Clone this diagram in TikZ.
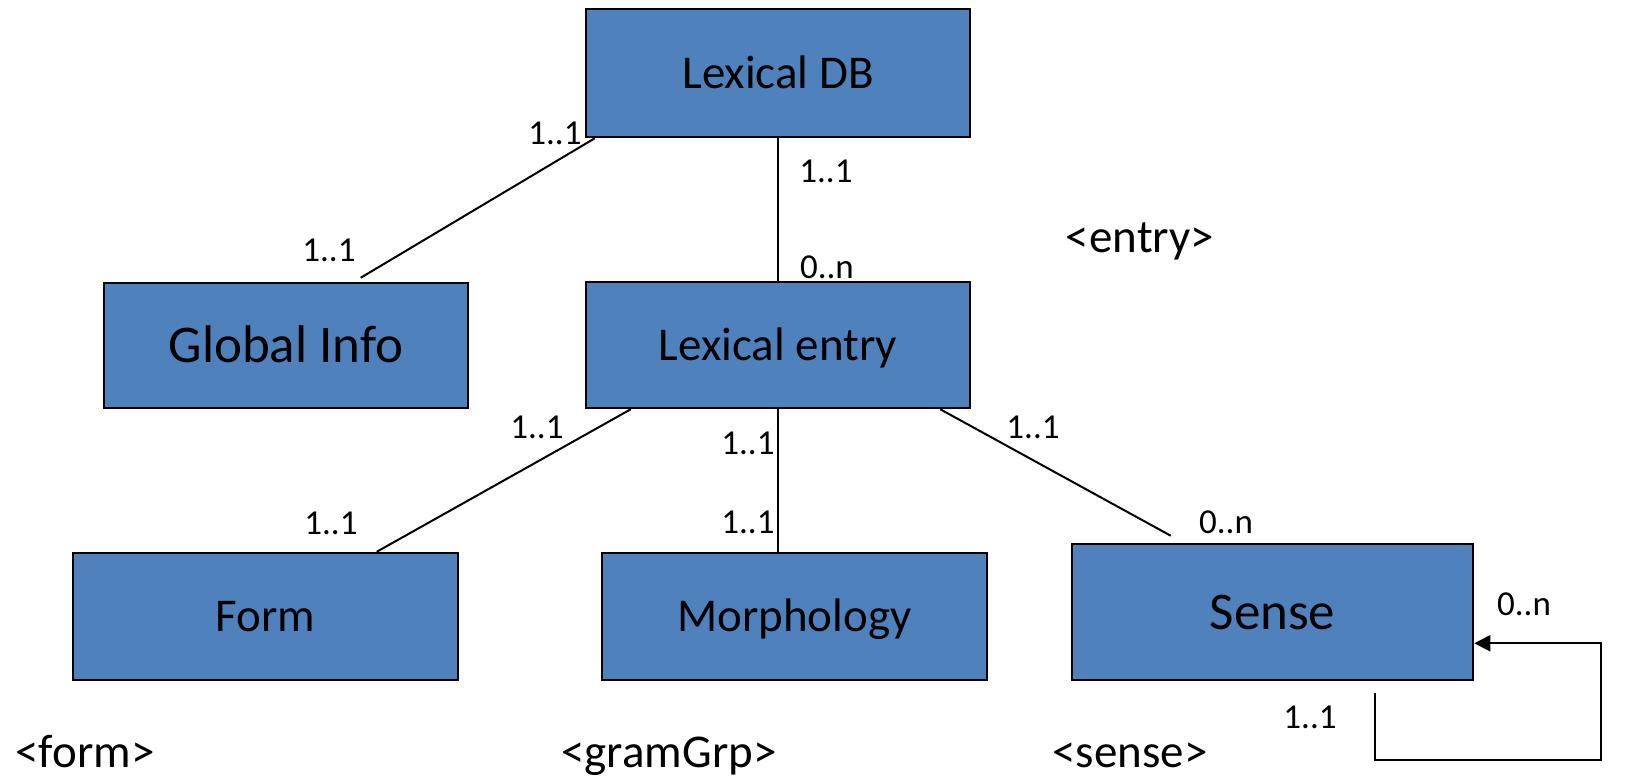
\documentclass[tikz,border=0pt]{standalone}
\usepackage{fontspec}
\setmainfont{Carlito}
\usetikzlibrary{calc,arrows.meta}
\definecolor{boxblue}{HTML}{4F81BD}
\begin{document}
\begin{tikzpicture}[x=0.5pt,y=-0.5pt,
  box/.style={draw=black,line width=1.25pt,fill=boxblue,inner sep=0pt,
    font=\fontsize{23.5}{28}\selectfont,text height=15.1pt,text depth=0pt},
  bigbox/.style={box,font=\fontsize{26.5}{32}\selectfont,text height=17pt},
  card/.style={font=\fontsize{17.5}{21}\selectfont,anchor=base,inner sep=0pt},
  tag/.style={font=\fontsize{23.5}{28}\selectfont,anchor=base,inner sep=0pt},
  link/.style={line width=1pt}]
\useasboundingbox (0,0) rectangle (1633,778);

% boxes
\node[box,minimum width=192pt,minimum height=64pt] (db) at (778,73) {Lexical DB};
\node[box,minimum width=192pt,minimum height=63pt] (entry) at (778,345) {Lexical entry};
\node[bigbox,minimum width=182pt,minimum height=62.5pt] (gi) at (286,345.5) {Global Info};
\node[box,minimum width=192.5pt,minimum height=63.5pt] (form) at (265.5,616.5) {Form};
\node[box,minimum width=192.5pt,minimum height=63.5pt] (morph) at (794.5,616.5) {Morphology};
\node[bigbox,minimum width=200.5pt,minimum height=68pt] (sense) at (1272.5,612) {Sense};

% connectors
\draw[link] ($(db.south west)+(10,0)$) -- ($(gi.north west)+(258,-4)$);
\draw[link] (db.south) -- (entry.north);
\draw[link] ($(entry.south west)+(46,0)$) -- ($(form.north west)+(305,0)$);
\draw[link] (entry.south) -- (entry.south |- morph.north);
\draw[link] ($(entry.south east)+(-31,0)$) -- ($(sense.north west)+(100,-7)$);

% self loop
\coordinate (ls) at (1375,693);
\coordinate (lc) at (1601,760);
\draw[link,-{Triangle[length=8pt,width=8pt]}] (ls) |- (lc) |- ($(sense.south east)+(0,-38)$);

% cardinalities
\node[card] (c1) at (555,144) {1..1};
\node[card] (c2) at (826,182) {1..1};
\node[card] (c3) at (329,261) {1..1};
\node[card] (c4) at (827,278) {0..n};
\node[card] (c5) at (537,438) {1..1};
\node[card] (c6) at (748,454) {1..1};
\node[card] (c7) at (1033,438) {1..1};
\node[card] (c8) at (331,534) {1..1};
\node[card] (c9) at (748,533) {1..1};
\node[card] (c10) at (1226,533) {0..n};
\node[card] (c11) at (1524,615) {0..n};
\node[card] (c12) at (1310,728) {1..1};

% tags
\node[tag] (tentry) at (1140,252) {<entry>};
\node[tag] (tform) at (85,767) {<form>};
\node[tag] (tgram) at (669,767) {<gramGrp>};
\node[tag] (tsense) at (1130,767) {<sense>};
\end{tikzpicture}
\end{document}
